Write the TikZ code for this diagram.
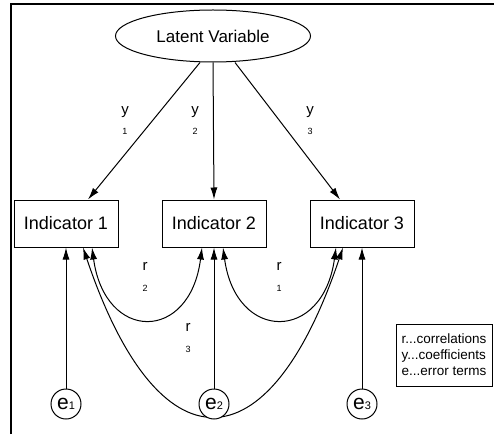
\documentclass[tikz,border=0pt]{standalone}
\usepackage{fontspec}
\setmainfont{Liberation Sans}
\usetikzlibrary{shapes.geometric,arrows.meta}
\begin{document}
\begin{tikzpicture}[x=1pt,y=1pt,line width=1pt,>={Latex[length=12pt,width=7pt]},
    indbox/.style={rectangle,draw,minimum width=104pt,minimum height=47pt,font=\fontsize{18}{18}\selectfont},
    err/.style={circle,draw,fill=white,minimum size=30pt,inner sep=0pt,font=\fontsize{21}{21}\selectfont},
    coef/.style={inner sep=0pt,text height=7.8pt,text depth=3.2pt,font=\fontsize{15}{15}\selectfont},
    idx/.style={inner sep=0pt,label distance=10pt,font=\fontsize{9}{9}\selectfont},
    keybox/.style={rectangle,draw,align=left,minimum width=96pt,minimum height=62pt,inner sep=2pt,font=\fontsize{13.5}{16}\selectfont}]
   \useasboundingbox (0,0) rectangle (494,434);
   \draw[line width=1.5pt] (11,0) -- (11,430) -- (494,430);
   \node[ellipse,draw,minimum width=195pt,minimum height=52pt,inner sep=0pt,font=\fontsize{17}{17}\selectfont] (lv) at (213,398) {Latent Variable};
   \foreach \i/\x in {1/66,2/214,3/362}
     \node[indbox] (ind\i) at (\x,210.5) {Indicator \i};
   \draw[->] ([xshift=-13pt]lv.south) -- ([xshift=22pt]ind1.north);
   \draw[->] (lv.south) -- (ind2.north);
   \draw[->] ([xshift=22pt]lv.south) -- ([xshift=-22pt]ind3.north);
   \draw[<->] ([xshift=26pt]ind1.south) .. controls +(13,-95) and +(-12,-95) .. ([xshift=-12pt]ind2.south);
   \draw[<->] ([xshift=9pt]ind2.south) .. controls +(13,-95) and +(-13,-95) .. ([xshift=-26pt]ind3.south);
   \draw[<->] ([xshift=17pt]ind1.south) .. controls +(75,-223) and +(-75,-223) .. ([xshift=-19pt]ind3.south);
   \foreach \i/\x in {1/66,2/214,3/362}{
     \node[err] (e\i) at (\x,30) {e{\fontsize{11}{11}\selectfont\i}};
     \draw[->] (e\i) -- (ind\i);
   }
   \node[coef,label={[idx]below:1}] (y1) at (125,322) {y};
   \node[coef,label={[idx]below:2}] (y2) at (195,322) {y};
   \node[coef,label={[idx]below:3}] (y3) at (310,322) {y};
   \node[coef,label={[idx]below:2}] (r2) at (145,165.4) {r};
   \node[coef,label={[idx]below:1}] (r1) at (279,165.4) {r};
   \node[coef,label={[idx]below:3}] (r3) at (188,104.4) {r};
   \node[keybox] (key) at (444,79) {r...correlations\\y...coefficients\\e...error terms};
\end{tikzpicture}
\end{document}
